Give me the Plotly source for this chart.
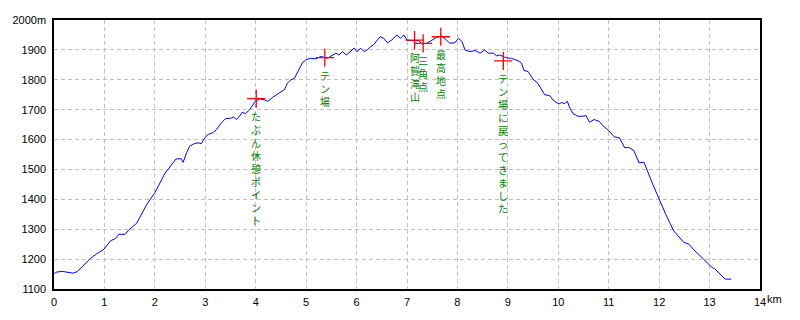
import plotly.graph_objects as go

# distance (km) and elevation (m) of the profile
dist_km = [0.00, 0.03, 0.16, 0.33, 0.38, 0.46, 0.56, 0.72, 0.85, 0.99, 1.12, 1.22, 1.28, 1.41, 1.48,
           1.64, 1.84, 2.00, 2.20, 2.33, 2.42, 2.52, 2.56, 2.63, 2.69, 2.79, 2.86, 2.92, 2.99, 3.06,
           3.16, 3.22, 3.32, 3.40, 3.52, 3.56, 3.61, 3.68, 3.73, 3.80, 3.88, 3.99, 4.08, 4.17, 4.24,
           4.34, 4.44, 4.50, 4.57, 4.63, 4.70, 4.77, 4.86, 4.93, 5.00, 5.09, 5.19, 5.29, 5.42, 5.49,
           5.59, 5.65, 5.72, 5.80, 5.88, 5.95, 6.01, 6.08, 6.15, 6.21, 6.28, 6.34, 6.41, 6.47, 6.54,
           6.61, 6.70, 6.80, 6.87, 6.94, 7.00, 7.10, 7.23, 7.30, 7.39, 7.49, 7.59, 7.69, 7.79, 7.85,
           7.95, 8.02, 8.09, 8.15, 8.25, 8.35, 8.45, 8.54, 8.61, 8.71, 8.78, 8.84, 8.93, 9.01, 9.07,
           9.20, 9.27, 9.32, 9.40, 9.50, 9.60, 9.66, 9.73, 9.83, 9.89, 9.96, 10.02, 10.07, 10.12, 10.18,
           10.22, 10.29, 10.39, 10.48, 10.55, 10.62, 10.71, 10.81, 10.88, 10.98, 11.11, 11.21, 11.32, 11.40, 11.50,
           11.60, 11.70, 11.86, 12.00, 12.13, 12.29, 12.49, 12.59, 12.69, 12.88, 13.05, 13.10, 13.25, 13.31, 13.43]
elev_m = [1150, 1156, 1159, 1156, 1153, 1158, 1176, 1202, 1218, 1233, 1261, 1269, 1283, 1283, 1297,
          1320, 1383, 1422, 1487, 1517, 1535, 1536, 1524, 1556, 1578, 1587, 1589, 1586, 1606, 1617,
          1624, 1633, 1656, 1670, 1672, 1676, 1667, 1678, 1691, 1687, 1700, 1728, 1736, 1733, 1728,
          1742, 1753, 1761, 1767, 1789, 1800, 1806, 1833, 1858, 1867, 1872, 1870, 1878, 1872, 1880,
          1889, 1883, 1894, 1883, 1894, 1906, 1894, 1906, 1894, 1900, 1911, 1917, 1933, 1944, 1939,
          1924, 1933, 1950, 1939, 1950, 1933, 1931, 1931, 1920, 1922, 1933, 1942, 1947, 1933, 1922,
          1924, 1939, 1928, 1900, 1894, 1898, 1889, 1900, 1889, 1889, 1880, 1883, 1876, 1872, 1872,
          1864, 1856, 1831, 1828, 1802, 1787, 1772, 1750, 1747, 1733, 1724, 1720, 1724, 1720, 1728,
          1709, 1687, 1678, 1678, 1680, 1658, 1667, 1661, 1647, 1633, 1609, 1606, 1572, 1574, 1563,
          1522, 1524, 1456, 1400, 1350, 1294, 1256, 1250, 1231, 1200, 1172, 1168, 1144, 1133, 1133]

# waypoints
wp_km = [4.01, 5.37, 7.15, 7.32, 7.67, 8.91]
wp_m = [1737, 1874, 1933, 1922, 1944, 1863]
wp_names = ["たぶん休憩ポイント", "テン場", "阿賀滝山", "三角点", "最高地点", "テン場に戻ってきました"]

x_ticks = list(range(0, 15))
x_labels = [str(v) for v in range(0, 14)] + ["14"]
y_ticks = list(range(1100, 2001, 100))
y_labels = [str(v) for v in range(1100, 2000, 100)] + ["2000m"]

fig = go.Figure()
fig.add_trace(go.Scatter(x=dist_km, y=elev_m, mode="lines",
                         line=dict(color="#0000ff", width=1), hoverinfo="skip"))
fig.add_trace(go.Scatter(x=wp_km, y=wp_m, mode="markers",
                         marker=dict(symbol="cross-thin", size=13, line=dict(color="#ff0000", width=1.3)),
                         hoverinfo="skip"))

annotations = []
for xk, ym, name in zip(wp_km, wp_m, wp_names):
    annotations.append(dict(x=xk, y=ym, xref="x", yref="y", text="<br>".join(name), showarrow=False,
                            xanchor="center", yanchor="top", yshift=-9, align="center",
                            borderpad=0,
                            font=dict(family="Noto Sans CJK JP", size=10, color="#008000")))
annotations.append(dict(x=14, y=1100, xref="x", yref="y", text="km", showarrow=False,
                        xanchor="left", yanchor="top", xshift=6, yshift=-3, borderpad=0,
                        font=dict(family="Liberation Sans", size=11, color="#000000")))

fig.update_layout(
    width=800, height=320,
    margin=dict(l=50, r=40, t=20, b=30),
    paper_bgcolor="#ffffff", plot_bgcolor="#ffffff",
    showlegend=False,
    annotations=annotations,
    font=dict(family="Liberation Sans", size=11, color="#000000"),
)
fig.update_xaxes(range=[0, 14], tickvals=x_ticks, ticktext=x_labels, showgrid=True,
                 gridcolor="#c0c0c0", griddash="4px,3px", gridwidth=1,
                 showline=True, linecolor="#000000", linewidth=1.5, mirror=True,
                 ticks="", zeroline=False, ticklabelstandoff=2)
fig.update_yaxes(range=[1100, 2000], tickvals=y_ticks, ticktext=y_labels, showgrid=True,
                 gridcolor="#c0c0c0", griddash="4px,3px", gridwidth=1,
                 showline=True, linecolor="#000000", linewidth=1.5, mirror=True,
                 ticks="", zeroline=False, ticklabelstandoff=4)

fig.write_html("out.html")
